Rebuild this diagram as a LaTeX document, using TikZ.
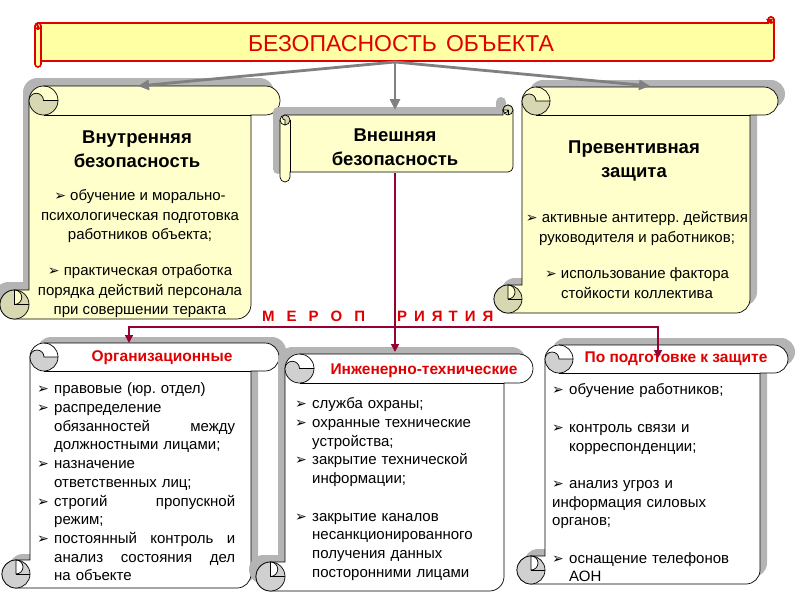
\documentclass[tikz,border=0pt]{standalone}
\usepackage{fontspec}
\setmainfont{Liberation Sans}
\newfontfamily\symfont{DejaVu Sans}
\usetikzlibrary{arrows.meta}

\definecolor{scrollyel}{RGB}{255,255,204}
\definecolor{banneryel}{RGB}{255,255,163}
\definecolor{curlyel}{RGB}{215,215,178}
\definecolor{curlbanner}{RGB}{240,240,170}
\definecolor{curlgray}{RGB}{208,208,208}
\definecolor{shadegray}{RGB}{180,180,180}
\definecolor{titlered}{RGB}{224,0,0}
\definecolor{linkred}{RGB}{150,0,50}
\definecolor{arrowgray}{RGB}{128,128,128}

\newcommand{\bul}{{\symfont\fontsize{14}{14}\selectfont ➢}}
\newcommand{\bitem}{\makebox[17pt][l]{\bul}}
\newcommand{\indt}{\hspace*{17pt}}
\newcommand{\mgap}{\hspace{12pt}}

% vertical scroll: x0 y0 x1 y1 roll body-style curl-colour shadow-style
\newcommand{\vscroll}[8]{%
  \path[#8] (#1+#5,#4-#5) -- (#1+#5,#2+#5/2) arc[start angle=180,end angle=270,radius=#5/2]
    -- (#3-#5/2,#2) arc[start angle=270,end angle=450,radius=#5/2]
    -- (#3-#5,#2+#5) -- (#3-#5,#4-#5/2) arc[start angle=0,end angle=90,radius=#5/2]
    -- (#1+#5/2,#4) arc[start angle=90,end angle=270,radius=#5/2] -- cycle;
  \path[#6] (#1+#5,#4-#5) -- (#1+#5,#2+#5/2) arc[start angle=180,end angle=270,radius=#5/2]
    -- (#3-#5/2,#2) arc[start angle=270,end angle=450,radius=#5/2]
    -- (#3-#5,#2+#5) -- (#3-#5,#4-#5/2) arc[start angle=0,end angle=90,radius=#5/2]
    -- (#1+#5/2,#4) arc[start angle=90,end angle=270,radius=#5/2] -- cycle;
  \path[#6, fill=#7] (#1+#5,#2+#5/2) arc[start angle=180,end angle=360,radius=#5/4]
    -- (#1+2*#5,#2+#5/2) arc[start angle=0,end angle=180,radius=#5/2] -- cycle;
  \path[#6, fill=none] (#1+2*#5,#2+#5/2) arc[start angle=0,end angle=-90,radius=#5/2];
  \path[#6, fill=none] (#1+1.5*#5,#2+#5) -- (#3-#5,#2+#5);
  \path[#6, fill=#7] (#1+#5/2,#4-#5/2) circle[radius=#5/2];
  \path[#6] (#1+#5/2,#4-#5) arc[start angle=270,end angle=450,radius=#5/4] -- cycle;
  \path[#6, fill=none] (#1+#5/2,#4-#5/2) -- (#1+#5,#4-#5/2);
}

% horizontal scroll: same arguments
\newcommand{\hscroll}[8]{%
  \path[#8] (#3-#5,#2+#5) -- (#1+#5/2,#2+#5) arc[start angle=270,end angle=180,radius=#5/2]
    -- (#1,#4-#5/2) arc[start angle=180,end angle=0,radius=#5/2]
    -- (#1+#5,#4-#5) -- (#3-#5/2,#4-#5) arc[start angle=90,end angle=0,radius=#5/2]
    -- (#3,#2+#5/2) arc[start angle=0,end angle=-180,radius=#5/2] -- cycle;
  \path[#6] (#3-#5,#2+#5) -- (#1+#5/2,#2+#5) arc[start angle=270,end angle=180,radius=#5/2]
    -- (#1,#4-#5/2) arc[start angle=180,end angle=0,radius=#5/2]
    -- (#1+#5,#4-#5) -- (#3-#5/2,#4-#5) arc[start angle=90,end angle=0,radius=#5/2]
    -- (#3,#2+#5/2) arc[start angle=0,end angle=-180,radius=#5/2] -- cycle;
  \path[#6, fill=#7] (#1+#5/2,#2+#5) arc[start angle=-90,end angle=-270,radius=#5/4]
    -- (#1+#5/2,#2+2*#5) arc[start angle=90,end angle=-90,radius=#5/2] -- cycle;
  \path[#6, fill=none] (#1+#5/2,#2+2*#5) arc[start angle=90,end angle=180,radius=#5/2];
  \path[#6, fill=none] (#1+#5,#2+1.5*#5) -- (#1+#5,#4-#5);
  \path[#6, fill=#7] (#3-#5/2,#2+#5/2) circle[radius=#5/2];
  \path[#6] (#3-#5,#2+#5/2) arc[start angle=180,end angle=0,radius=#5/4] -- cycle;
  \path[#6, fill=none] (#3-#5/2,#2+#5/2) -- (#3-#5/2,#2+#5);
}

\begin{document}
\frenchspacing
\begin{tikzpicture}[
    x=1pt, y=-1pt,
    ybody/.style={fill=scrollyel, draw=black, line width=0.7pt},
    wbody/.style={fill=white, draw=black, line width=0.7pt},
    bbody/.style={fill=banneryel, draw=titlered, line width=1.6pt},
    shadowfill/.style={fill=shadegray},
    bannertext/.style={font=\fontsize{23}{26}\selectfont, text=titlered, inner sep=0pt},
    scrolltitle/.style={font=\bfseries\fontsize{18.5}{24}\selectfont, align=center, inner sep=0pt},
    headtext/.style={font=\bfseries\fontsize{15.5}{18}\selectfont, text=titlered, inner sep=0pt},
    bodytxt/.style={font=\fontsize{15}{19.5}\selectfont, align=center, inner sep=0pt},
    listtxt/.style={font=\fontsize{15}{18.7}\selectfont, text width=200pt, align=left, inner sep=0pt, anchor=west},
    measures/.style={font=\bfseries\fontsize{15}{17}\selectfont, text=titlered, inner sep=0pt, anchor=west},
    grayarrow/.style={draw=arrowgray, line width=2.8pt, -{Triangle[length=11pt, width=10pt]}},
    linkarrow/.style={draw=linkred, line width=1.6pt},
    linktip/.tip={Triangle[length=8pt, width=8pt]},
  ]
  \useasboundingbox (0,0) rectangle (800,600);

  % --- Banner ---
  \hscroll{35}{17}{774}{67}{6}{bbody}{curlbanner}{draw=none}
  \node[bannertext] (banner) at (401,44) {БЕЗОПАСНОСТЬ\hspace{9pt}ОБЪЕКТА};

  % --- Upper scrolls ---
  \vscroll{0}{86}{280}{319}{29}{ybody}{curlyel}{shadowfill, shift={(-6,-8)}}
  \hscroll{280}{105}{513}{182}{10}{ybody}{curlyel}{shadowfill, shift={(-7,-8)}}
  \vscroll{494}{87}{778}{313}{28}{ybody}{curlyel}{shadowfill, shift={(7,-7)}}

  \node[scrolltitle] (inner) at (137,149) {Внутренняя\\безопасность};
  \node[bodytxt] (innertxt) at (140,254) {\bul\ обучение и морально-\\психологическая подготовка\\работников объекта;\\[16.5pt]\bul\ практическая отработка\\порядка действий персонала\\при совершении теракта};

  \node[scrolltitle] (outer) at (395,147) {Внешняя\\безопасность};

  \node[scrolltitle] (prevent) at (634,161) {Превентивная\\защита};
  \node[bodytxt, font=\fontsize{15}{20.5}\selectfont] (preventtxt) at (637,255) {\bul\ активные антитерр. действия\\руководителя и работников;\\[15pt]\bul\ использование фактора\\стойкости коллектива};

  % --- Lower scrolls ---
  \vscroll{2}{343}{279}{588}{28}{wbody}{curlgray}{shadowfill, shift={(7,-6)}}
  \vscroll{256}{354}{533}{591}{29}{wbody}{curlgray}{shadowfill, shift={(-7,-7)}}
  \vscroll{517}{345}{788}{584}{28}{wbody}{curlgray}{shadowfill, shift={(7,-7)}}

  \node[headtext] (org) at (162,358) {Организационные};
  \node[headtext] (eng) at (424,371) {Инженерно-технические};
  \node[headtext] (prep) at (676,359) {По подготовке к защите};

  \node[listtxt, text width=198pt] (orgtxt) at (37,482) {\bitem правовые (юр. отдел)\\
    \bitem распределение\\
    \indt обязанностей\hfill между\\
    \indt должностными лицами;\\
    \bitem назначение\\
    \indt ответственных лиц;\\
    \bitem строгий\hfill пропускной\\
    \indt режим;\\
    \bitem постоянный\hfill контроль\hfill и\\
    \indt анализ\hfill состояния\hfill дел\\
    \indt на объекте};

  \node[listtxt] (engtxt) at (295,489) {\bitem служба охраны;\\
    \bitem охранные технические\\
    \indt устройства;\\
    \bitem закрытие технической\\
    \indt информации;\\[18.7pt]
    \bitem закрытие каналов\\
    \indt несанкционированного\\
    \indt получения данных\\
    \indt посторонними лицами};

  \node[listtxt, text width=205pt] (preptxt) at (552,483) {\bitem обучение работников;\\[18.7pt]
    \bitem контроль связи и\\
    \indt корреспонденции;\\[18.7pt]
    \bitem анализ угроз и\\
    информация силовых\\
    органов;\\[18.7pt]
    \bitem оснащение телефонов\\
    \indt АОН};

  % --- Measures label ---
  \node[measures] (measures) at (262,316) {М\mgap Е\mgap Р\mgap О\mgap П\hspace{32pt}Р\hspace{7pt}И\hspace{7pt}Я\hspace{6pt}Т\hspace{7pt}И\hspace{7pt}Я};

  % --- Gray arrows from the banner ---
  \coordinate (hub) at (395,62);
  \coordinate (innerin) at (138,86);
  \coordinate (outerin) at (395,110);
  \coordinate (preventin) at (650,86);
  \draw[grayarrow] (hub) -- (innerin);
  \draw[grayarrow] (hub) -- (outerin);
  \draw[grayarrow] (hub) -- (preventin);

  % --- Red links to the lower scrolls ---
  \coordinate (outerout) at (395,173);
  \coordinate (split) at (395,327);
  \coordinate (orgin) at (129,343);
  \coordinate (engin) at (395,352);
  \coordinate (prepin) at (658,358);
  \draw[linkarrow, -linktip] (outerout) -- (engin);
  \draw[linkarrow, linktip-linktip] (orgin) -- (orgin |- split) -- (prepin |- split) -- (prepin);

\end{tikzpicture}
\end{document}
